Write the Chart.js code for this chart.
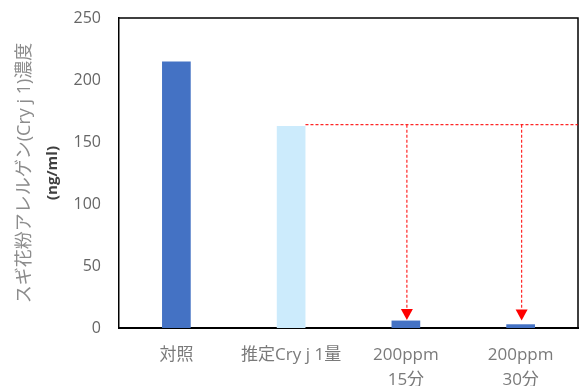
<!DOCTYPE html>
<html>
<head>
<meta charset="utf-8">
<script src="https://cdn.jsdelivr.net/npm/chart.js@4"></script>
<style>
html,body{margin:0;padding:0;background:#fff;}
#wrap{width:581px;height:386px;position:relative;}
</style>
</head>
<body>
<div id="wrap"><canvas id="c" width="581" height="386"></canvas></div>
<script>
const categories = ['対照', '推定Cry j 1量', ['200ppm', '15分'], ['200ppm', '30分']];
const values = [215, 163, 6, 3];
const barColors = ['#4472C4', '#CCEBFC', '#4472C4', '#4472C4'];
const yTicks = [0, 50, 100, 150, 200, 250];
const refLevel = 164;          // dashed reference line level (estimated Cry j 1)
const arrowTargets = [2, 3];   // category indices the arrows point to
const arrowTipValue = [6.5, 6];
const titleLine1 = 'スギ花粉アレルゲン(Cry j 1)濃度';
const titleLine2 = '(ng/ml)';

const FONT = '"Open Sans","Noto Sans CJK JP",sans-serif';

const overlay = {
  id: 'overlay',
  afterDatasetsDraw(chart) {
    const {ctx, chartArea, scales} = chart;
    const x = scales.x, y = scales.y;
    const meta = chart.getDatasetMeta(0);
    ctx.save();
    ctx.strokeStyle = '#000';
    ctx.lineWidth = 1.5;
    ctx.beginPath();
    ctx.moveTo(chartArea.left, chartArea.top);
    ctx.lineTo(chartArea.right, chartArea.top);
    ctx.lineTo(chartArea.right, chartArea.bottom);
    ctx.stroke();
    const yRef = y.getPixelForValue(refLevel);
    const bar1 = meta.data[1];
    ctx.strokeStyle = 'rgba(255,0,0,0.85)';
    ctx.lineWidth = 1.2;
    ctx.setLineDash([3, 2]);
    ctx.beginPath();
    ctx.moveTo(bar1.x + bar1.width / 2, yRef);
    ctx.lineTo(chartArea.right, yRef);
    ctx.stroke();
    arrowTargets.forEach((idx, i) => {
      const bx = x.getPixelForValue(idx) + 1;
      const tip = y.getPixelForValue(arrowTipValue[i]);
      const ah = 11, aw = 6;
      ctx.setLineDash([3, 2]);
      ctx.beginPath();
      ctx.moveTo(bx, yRef);
      ctx.lineTo(bx, tip - ah);
      ctx.stroke();
      ctx.setLineDash([]);
      ctx.fillStyle = '#FF0000';
      ctx.beginPath();
      ctx.moveTo(bx - aw, tip - ah);
      ctx.lineTo(bx + aw, tip - ah);
      ctx.lineTo(bx, tip);
      ctx.closePath();
      ctx.fill();
    });
    ctx.restore();
  },
  afterDraw(chart) {
    const {ctx, chartArea} = chart;
    const cy = (chartArea.top + chartArea.bottom) / 2;
    ctx.save();
    ctx.translate(25, cy);
    ctx.rotate(-Math.PI / 2);
    ctx.textAlign = 'center';
    ctx.textBaseline = 'middle';
    ctx.fillStyle = '#8c8c8c';
    ctx.font = '18px ' + FONT;
    ctx.fillText(titleLine1, 0, 0);
    ctx.fillStyle = '#404040';
    ctx.font = 'bold 15px ' + FONT;
    ctx.fillText(titleLine2, 0, 28);
    ctx.restore();
  }
};

new Chart(document.getElementById('c'), {
  type: 'bar',
  data: {
    labels: categories,
    datasets: [{
      data: values,
      backgroundColor: barColors,
      borderWidth: 0,
      barPercentage: 0.25,
      categoryPercentage: 1
    }]
  },
  options: {
    responsive: false,
    animation: false,
    devicePixelRatio: 1,
    layout: {padding: {top: 18, right: 3, left: 0, bottom: 0}},
    plugins: {legend: {display: false}, tooltip: {enabled: false}},
    scales: {
      x: {
        grid: {display: false, drawTicks: false},
        border: {color: '#000', width: 2},
        ticks: {
          color: '#7a7a7a',
          font: {family: FONT, size: 17, lineHeight: 1.5},
          padding: 14,
          maxRotation: 0,
          autoSkip: false
        },
        afterFit(s) { s.height = 58; }
      },
      y: {
        min: 0, max: 250,
        afterBuildTicks(s) { s.ticks = yTicks.map(v => ({value: v})); },
        grid: {display: false, drawTicks: false},
        border: {color: '#000', width: 1.5},
        ticks: {
          color: '#666666',
          font: {family: FONT, size: 16},
          padding: 18
        },
        afterFit(s) { s.width = 119; s.paddingTop = 0; s.paddingBottom = 0; }
      }
    }
  },
  plugins: [overlay]
});
</script>
</body>
</html>
